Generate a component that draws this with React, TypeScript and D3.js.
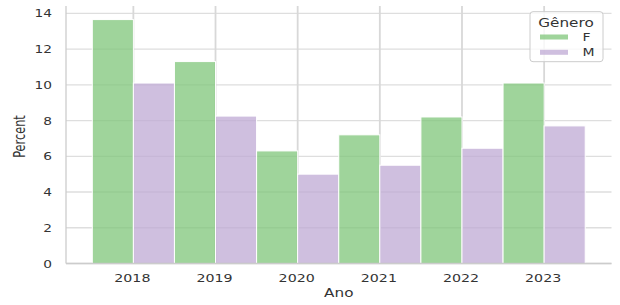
import React from "react";
import * as d3 from "d3";

const years = [2018, 2019, 2020, 2021, 2022, 2023];
const seriesF = [13.65, 11.3, 6.3, 7.2, 8.2, 10.1];
const seriesM = [10.1, 8.25, 5.0, 5.5, 6.45, 7.7];
const yTicks = [0, 2, 4, 6, 8, 10, 12, 14];
const genders = ["F", "M"];
const colors: Record<string, string> = { F: "#7fc67a", M: "#bfaad4" };

const W = 620;
const H = 305;
const left = 66;
const right = 611.5;
const top = 6;
const bottom = 263.5;
const SX = 1.27;
const FONT = "DejaVu Sans, sans-serif";
const TXT = "#333333";

export default function App() {
  const x = d3.scaleLinear().domain([2017.18, 2023.82]).range([left, right]);
  const y = d3.scaleLinear().domain([0, 14.41]).range([bottom, top]);

  const bars: { key: string; g: string; x0: number; x1: number; v: number }[] = [];
  years.forEach((yr, i) => {
    bars.push({ key: `F${yr}`, g: "F", x0: x(yr - 0.5), x1: x(yr), v: seriesF[i] });
    bars.push({ key: `M${yr}`, g: "M", x0: x(yr), x1: x(yr + 0.5), v: seriesM[i] });
  });

  return (
    <svg width={W} height={H} style={{ position: "absolute", left: 0, top: 0 }}>
      <rect x={0} y={0} width={W} height={H} fill="#ffffff" />
      {/* grid */}
      {yTicks.map((t) => (
        <line key={`gy${t}`} x1={left} x2={right} y1={y(t)} y2={y(t)} stroke="#dedede" strokeWidth={1.3} />
      ))}
      {years.map((yr) => (
        <line key={`gx${yr}`} x1={x(yr)} x2={x(yr)} y1={top} y2={bottom} stroke="#d8d8d8" strokeWidth={1.8} />
      ))}
      {/* bars */}
      {bars.map((b) => (
        <rect
          key={b.key}
          x={b.x0}
          y={y(b.v)}
          width={b.x1 - b.x0}
          height={y(0) - y(b.v)}
          fill={colors[b.g]}
          fillOpacity={0.75}
          stroke="#ffffff"
          strokeWidth={1}
        />
      ))}
      {/* spines */}
      <line x1={left} x2={left} y1={top} y2={bottom} stroke="#cccccc" strokeWidth={1.3} />
      <line x1={left} x2={right} y1={bottom} y2={bottom} stroke="#cccccc" strokeWidth={1.3} />
      {/* y tick labels */}
      {yTicks.map((t) => (
        <text
          key={`ty${t}`}
          transform={`translate(52,${y(t) + 4}) scale(${SX},1)`}
          textAnchor="end"
          fontFamily={FONT}
          fontSize={10.8}
          fill={TXT}
        >
          {t}
        </text>
      ))}
      {/* x tick labels */}
      {years.map((yr) => (
        <text
          key={`tx${yr}`}
          transform={`translate(${x(yr) - 1},281.7) scale(${SX},1)`}
          textAnchor="middle"
          fontFamily={FONT}
          fontSize={11.2}
          fill={TXT}
        >
          {yr}
        </text>
      ))}
      {/* axis labels */}
      <text
        transform={`translate(${(left + right) / 2},297) scale(${SX},1)`}
        textAnchor="middle"
        fontFamily={FONT}
        fontSize={12}
        fill={TXT}
      >
        Ano
      </text>
      <text
        transform={`translate(25,136.5) rotate(-90) scale(0.9,${SX})`}
        textAnchor="middle"
        fontFamily={FONT}
        fontSize={12.6}
        fill={TXT}
      >
        Percent
      </text>
      {/* legend */}
      <rect x={530} y={11.7} width={73} height={50} rx={3} fill="#ffffff" fillOpacity={0.8} stroke="#cccccc" strokeWidth={1} />
      <text
        transform={`translate(566,26.5) scale(${SX},1)`}
        textAnchor="middle"
        fontFamily={FONT}
        fontSize={12}
        fill={TXT}
      >
        Gênero
      </text>
      {genders.map((g, i) => (
        <g key={`lg${g}`}>
          <rect x={540} y={34.5 + i * 15.3} width={28} height={5} fill={colors[g]} fillOpacity={0.75} />
          <text
            transform={`translate(582.5,${41 + i * 15.3}) scale(${SX},1)`}
            textAnchor="start"
            fontFamily={FONT}
            fontSize={11}
            fill={TXT}
          >
            {g}
          </text>
        </g>
      ))}
    </svg>
  );
}
